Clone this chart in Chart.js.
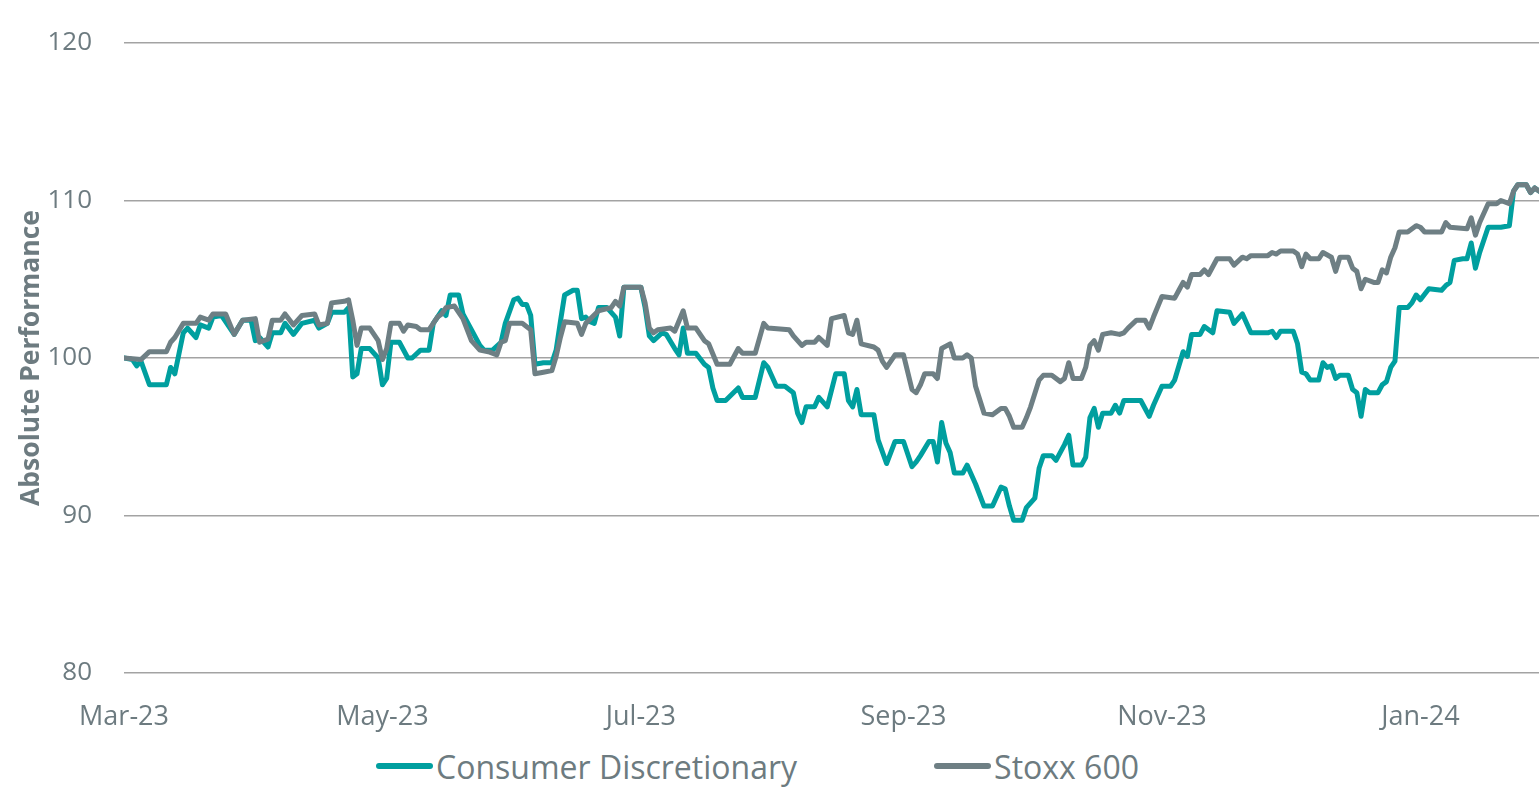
<!DOCTYPE html>
<html lang="en">
<head>
<meta charset="UTF-8">
<title>Consumer Discretionary vs Stoxx 600</title>
<script src="https://cdn.jsdelivr.net/npm/chart.js"></script>
<style>
  html, body { margin: 0; padding: 0; background: #fff; }
  .chart-box { position: relative; width: 1539px; height: 740px; }
  .legend {
    width: 1539px; height: 47px; box-sizing: border-box;
    display: flex; justify-content: center; align-items: center;
    padding: 5px 24px 0 0;
    font-family: "Open Sans", sans-serif; font-size: 32px; color: #6d7b80;
  }
  .legend-item { display: flex; align-items: center; }
  .legend-item + .legend-item { margin-left: 137px; }
  .legend-line { width: 57px; height: 6px; border-radius: 3px; margin-right: 3px; }
</style>
</head>
<body>
<div class="chart-box"><canvas id="perfChart"></canvas></div>
<div class="legend" id="legend"></div>

<script>
// days counted from 1 Mar 2023, values rebased to 100
const cdDays = [0,2,3,4,6,10,11,12,14,15,17,18,20,21,23,26,28,30,31,32,34,35,37,38,40,42,45,46,48,49,52,53,54,55,56,58,60,61,62,63,65,67,68,70,72,73,75,76,77,79,80,82,84,85,87,89,90,92,93,94,95,96,97,99,101,102,103,104,106,107,108,109,110,111,112,114,116,117,118,122,123,124,125,127,128,130,131,132,133,135,137,138,139,140,142,145,146,149,151,152,154,156,158,159,160,161,163,164,166,168,170,171,172,173,174,177,178,180,182,184,186,187,188,190,191,192,193,194,195,196,198,199,201,203,205,207,208,209,210,212,213,215,216,217,219,220,222,223,224,226,227,228,229,230,231,233,234,235,236,240,242,243,245,247,248,250,251,252,254,255,257,258,261,262,264,266,270,271,272,273,276,277,278,279,280,282,283,284,285,286,287,289,290,291,292,293,294,296,297,298,299,300,301,303,304,305,306,308,311,312,313,314,316,317,318,319,320,322,325,327,328,329,331,332,333,334];
const cdValues = [100.0,99.9,99.5,99.8,98.3,98.3,99.4,99.0,101.6,101.9,101.3,102.1,101.9,102.6,102.7,101.5,102.4,102.4,101.1,101.3,100.7,101.6,101.6,102.2,101.5,102.2,102.4,101.9,102.2,102.9,102.9,103.2,98.8,99.0,100.6,100.6,100.0,98.3,98.7,101.0,101.0,100.0,100.0,100.5,100.5,102.2,103.0,102.7,104.0,104.0,102.8,101.8,100.8,100.5,100.5,101.0,102.2,103.7,103.8,103.4,103.4,102.7,99.6,99.7,99.7,100.5,102.3,104.0,104.3,104.3,102.5,102.6,102.3,102.2,103.2,103.2,102.6,101.4,104.5,104.5,103.2,101.4,101.1,101.6,101.5,100.6,100.2,101.9,100.3,100.3,99.6,99.4,98.1,97.3,97.3,98.1,97.5,97.5,99.7,99.4,98.2,98.2,97.8,96.5,95.9,96.9,96.9,97.5,96.9,99.0,99.0,97.3,96.9,98.0,96.4,96.4,94.8,93.3,94.7,94.7,93.1,93.4,93.8,94.7,94.7,93.4,95.9,94.6,94.0,92.7,92.7,93.2,92.0,90.6,90.6,91.8,91.7,90.6,89.7,89.7,90.5,91.1,93.0,93.8,93.8,93.5,94.5,95.1,93.2,93.2,93.7,96.2,96.8,95.6,96.5,96.5,97.0,96.5,97.3,97.3,96.3,97.0,98.2,98.2,98.6,100.4,100.1,101.5,101.5,102.0,101.6,103.0,102.9,102.2,102.8,101.6,101.6,101.7,101.3,101.7,101.7,100.9,99.1,99.0,98.6,98.6,99.7,99.4,99.5,98.7,98.9,98.9,98.0,97.8,96.3,98.0,97.8,97.8,98.3,98.5,99.4,99.8,103.2,103.2,103.5,104.0,103.7,104.4,104.3,104.6,104.8,106.2,106.3,106.3,107.3,105.7,106.7,108.3,108.3,108.4,110.6,111.0,111.0,110.5,110.8,110.6];

const sxDays = [0,4,6,10,11,12,14,17,18,20,21,24,26,28,31,32,34,35,37,38,40,42,45,46,48,49,52,53,54,55,56,58,60,61,62,63,65,66,67,69,70,72,74,75,76,78,80,81,82,84,86,88,89,90,91,94,96,97,99,101,102,103,104,107,108,109,112,115,116,117,118,122,123,124,125,126,129,130,132,133,135,137,138,140,143,145,146,149,151,152,157,158,160,161,163,164,166,167,170,171,172,173,174,177,178,179,180,182,184,186,187,188,189,191,192,193,195,196,198,199,200,201,203,205,207,208,209,210,212,213,214,216,217,219,221,222,223,224,226,227,228,229,230,231,233,235,236,237,239,241,242,243,245,248,249,250,251,252,254,255,256,258,261,262,264,265,266,270,271,272,273,276,277,278,279,280,282,283,285,286,287,289,290,291,292,293,295,296,297,298,299,300,301,303,305,306,307,311,312,313,317,318,319,320,322,324,325,327,328,329,331,332,333,334];
const sxValues = [100.0,99.9,100.4,100.4,101.0,101.3,102.2,102.2,102.6,102.4,102.8,102.8,101.5,102.4,102.5,101.0,101.2,102.4,102.4,102.8,102.1,102.7,102.8,102.1,102.2,103.5,103.6,103.7,102.4,100.8,101.9,101.9,101.1,99.9,100.6,102.2,102.2,101.7,102.1,102.0,101.8,101.8,102.6,102.8,103.2,103.3,102.5,101.8,101.1,100.5,100.4,100.2,101.0,101.1,102.2,102.2,101.8,99.0,99.1,99.2,100.1,101.3,102.3,102.2,101.5,102.2,103.0,103.2,103.6,103.3,104.5,104.5,103.5,101.9,101.6,101.8,101.9,101.7,103.0,101.9,101.9,101.1,100.9,99.6,99.6,100.6,100.3,100.3,102.2,101.9,101.8,101.4,100.8,101.0,101.0,101.3,100.8,102.5,102.7,101.6,101.5,102.4,100.9,100.7,100.5,99.8,99.4,100.2,100.2,98.0,97.8,98.3,99.0,99.0,98.7,100.6,100.9,100.0,100.0,100.2,100.0,98.2,96.5,96.4,96.8,96.8,96.3,95.6,95.6,96.2,96.9,98.6,98.9,98.9,98.5,98.7,99.7,98.7,98.7,99.4,100.8,101.1,100.5,101.5,101.6,101.5,101.6,101.9,102.4,102.4,101.9,102.6,103.9,103.8,104.3,104.8,104.5,105.3,105.3,105.6,105.3,106.3,106.3,105.9,106.4,106.3,106.5,106.5,106.7,106.6,106.8,106.8,106.6,105.8,106.6,106.3,106.3,106.7,106.4,105.5,106.4,106.4,105.7,105.5,104.4,105.0,104.8,104.8,105.6,105.4,106.4,107.0,108.0,108.0,108.4,108.3,108.0,108.0,108.6,108.3,108.2,108.9,107.8,108.6,109.8,109.8,110.0,109.8,110.6,111.0,111.0,110.5,110.8,110.6];

const xTickDays = [0, 61, 122, 184, 245, 306];
const xTickLabels = ['Mar-23', 'May-23', 'Jul-23', 'Sep-23', 'Nov-23', 'Jan-24'];
const yMin = 80, yMax = 120, yStep = 10;

const seriesNames = ['Consumer Discretionary', 'Stoxx 600'];
const seriesColors = ['#009f9f', '#6e7f84'];
const textColor = '#6d7b80';

function toPoints(days, values) {
  return days.map((d, i) => ({ x: d, y: values[i] }));
}

const ctx = document.getElementById('perfChart').getContext('2d');
const perfChart = new Chart(ctx, {
  type: 'line',
  data: {
    datasets: [
      { label: seriesNames[0], data: toPoints(cdDays, cdValues), borderColor: seriesColors[0], order: 1 },
      { label: seriesNames[1], data: toPoints(sxDays, sxValues), borderColor: seriesColors[1], order: 0 }
    ]
  },
  options: {
    responsive: true,
    maintainAspectRatio: false,
    animation: false,
    layout: { padding: { top: 43, right: 0, bottom: 0, left: 0 } },
    elements: {
      point: { radius: 0 },
      line: { borderWidth: 5, tension: 0, borderJoinStyle: 'round', borderCapStyle: 'round' }
    },
    plugins: {
      legend: { display: false },
      tooltip: { enabled: false }
    },
    scales: {
      x: {
        type: 'linear',
        min: 0,
        max: 334,
        grid: { display: false, drawTicks: false },
        border: { display: false },
        afterBuildTicks: (scale) => { scale.ticks = xTickDays.map(v => ({ value: v })); },
        afterFit: (scale) => { scale.height = 67; },
        ticks: {
          autoSkip: false,
          maxRotation: 0,
          padding: 28,
          color: textColor,
          font: { family: 'Open Sans', size: 27 },
          callback: (value) => xTickLabels[xTickDays.indexOf(value)]
        }
      },
      y: {
        min: yMin,
        max: yMax,
        grid: { color: '#a3a3a3', lineWidth: 1.5, drawTicks: false },
        border: { display: false },
        afterFit: (scale) => {
          scale.width = 124;
          // the label padding should not push the plot top down
          scale.paddingTop = 0;
          scale.paddingBottom = 0;
        },
        ticks: {
          stepSize: yStep,
          padding: 32,
          color: textColor,
          font: { family: 'Open Sans', size: 26 }
        },
        title: {
          display: true,
          text: 'Absolute Performance',
          color: textColor,
          padding: { top: 16, bottom: 0 },
          font: { family: 'Open Sans', size: 26.5, weight: 'bold' }
        }
      }
    }
  }
});

// legend with a line sample, built from the datasets
const legendEl = document.getElementById('legend');
perfChart.data.datasets.forEach((ds) => {
  const item = document.createElement('div');
  item.className = 'legend-item';
  const line = document.createElement('span');
  line.className = 'legend-line';
  line.style.background = ds.borderColor;
  const label = document.createElement('span');
  label.textContent = ds.label;
  item.appendChild(line);
  item.appendChild(label);
  legendEl.appendChild(item);
});
</script>
</body>
</html>
